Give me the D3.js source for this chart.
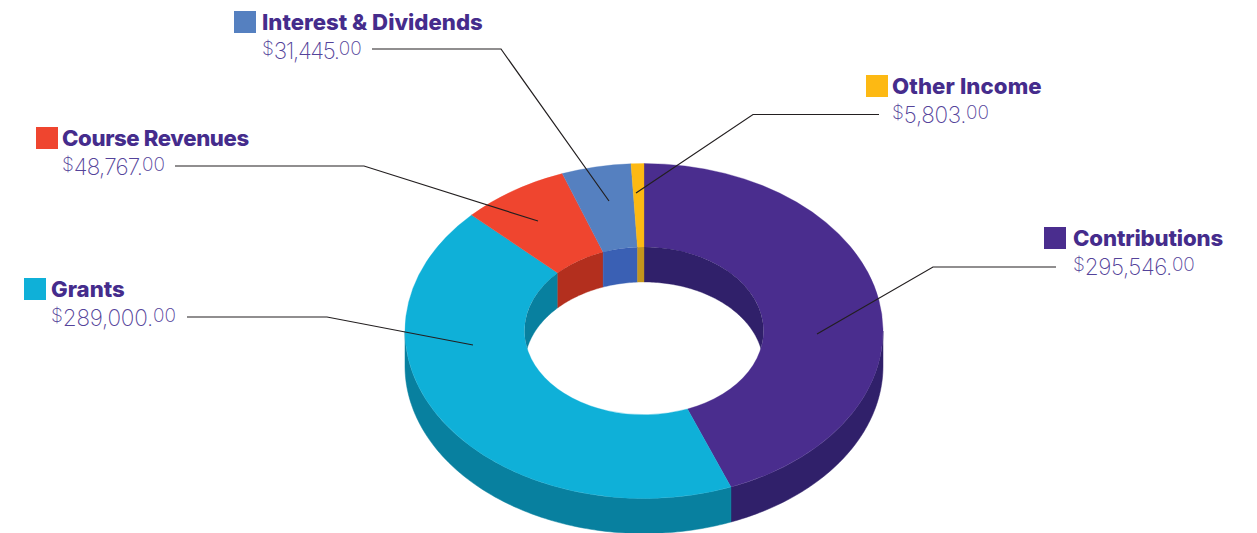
<!DOCTYPE html>
<html>
<head>
<meta charset="utf-8">
<script src="https://cdnjs.cloudflare.com/ajax/libs/d3/7.8.5/d3.min.js"></script>
<style>
  html, body { margin: 0; background: #fff; }
  svg { display: block; }
  .name { font-family: Inter, sans-serif; font-weight: 800; fill: #452c8c; font-size: 22.2px; }
  .amount { font-family: Inter, sans-serif; font-weight: 250; fill: #54439a; font-size: 22.5px; }
  .small { font-size: 19px; letter-spacing: 0; }
</style>
</head>
<body>
<script>
// data
var categories = ["Contributions", "Grants", "Course Revenues", "Interest & Dividends", "Other Income"];
var values = [295546, 289000, 48767, 31445, 5803];
var topColors = ["#4a2d8e", "#0fb0d8", "#ef452f", "#5580c0", "#fdb913"];
var wallColors = ["#30206a", "#08809f", "#b32f1e", "#3a60b4", "#c4961c"];

// label box (square corner), text offset and leader line for every category, same order
var labelPos = [[1044, 227], [24, 278], [36, 127], [234, 11], [866, 75]];
var textOffset = [29, 27, 26, 28, 26];
var nameSpacing = [-0.15, 0, -0.4, 0, 0.1];
var amountSpacing = [-0.45, -0.25, -0.8, -1.35, -0.35];
var leaders = [
  [[1056, 267], [933, 267], [817, 334]],
  [[187, 317], [327, 317], [473, 345]],
  [[175, 166], [364, 166], [538, 221]],
  [[372, 49], [501, 49], [609, 201]],
  [[879, 114.5], [753, 114.5], [636, 193]]
];

var width = 1257, height = 533;
var cx = 644, cy = 331, rx = 239, ry = 167.5, innerRx = 119.5, innerRy = 84, depth = 35;

var svg = d3.select("body").append("svg")
  .attr("width", width)
  .attr("height", height);

var pie = d3.pie().sort(null).value(function (d) { return d; });
var slices = pie(values);

// projects pie angle (0 = top, clockwise) onto an ellipse
function project(a, radX, radY, drop) {
  return [cx + radX * Math.sin(a), cy - radY * Math.cos(a) + drop];
}

// band between an elliptical arc and the same arc pushed down by depth
function wallPath(a0, a1, radX, radY) {
  var n = Math.max(2, Math.ceil((a1 - a0) * 60));
  var angles = d3.range(n + 1).map(function (i) { return a0 + (a1 - a0) * i / n; });
  var upper = angles.map(function (a) { return project(a, radX, radY, 0); });
  var lower = angles.slice().reverse().map(function (a) { return project(a, radX, radY, depth); });
  return d3.line()(upper.concat(lower)) + "Z";
}

var PI = Math.PI;

// outer wall, only the front half shows
var outer = svg.append("g").attr("class", "outer-wall");
slices.forEach(function (s, i) {
  var a0 = Math.max(s.startAngle, PI / 2), a1 = Math.min(s.endAngle, 3 * PI / 2);
  if (a1 <= a0) return;
  outer.append("path")
    .attr("d", wallPath(a0, a1, rx, ry))
    .attr("fill", wallColors[i])
    .attr("stroke", wallColors[i])
    .attr("stroke-width", 0.5);
});

// top face is a flat donut squashed to an ellipse
var arc = d3.arc().innerRadius(innerRx).outerRadius(rx);
svg.append("g")
  .attr("transform", "translate(" + cx + "," + cy + ") scale(1," + (ry / rx) + ")")
  .selectAll("path")
  .data(slices)
  .enter()
  .append("path")
  .attr("d", arc)
  .attr("fill", function (d, i) { return topColors[i]; })
  .attr("stroke", function (d, i) { return topColors[i]; })
  .attr("stroke-width", 0.4);

// inner wall seen through the hole, back half only
svg.append("clipPath").attr("id", "hole")
  .append("ellipse")
  .attr("cx", cx).attr("cy", cy).attr("rx", innerRx).attr("ry", innerRy);

var inner = svg.append("g").attr("clip-path", "url(#hole)");
slices.forEach(function (s, i) {
  var ranges = [[s.startAngle, Math.min(s.endAngle, PI / 2)], [Math.max(s.startAngle, 3 * PI / 2), s.endAngle]];
  ranges.forEach(function (r) {
    if (r[1] <= r[0]) return;
    inner.append("path")
      .attr("d", wallPath(r[0], r[1], innerRx, innerRy))
      .attr("fill", wallColors[i])
      .attr("stroke", wallColors[i])
      .attr("stroke-width", 0.4);
  });
});

// leader lines
svg.append("g").selectAll("path")
  .data(leaders)
  .enter()
  .append("path")
  .attr("d", d3.line())
  .attr("fill", "none")
  .attr("stroke", "#231f20")
  .attr("stroke-width", 1.2);

// labels
var labels = svg.append("g").selectAll("g")
  .data(categories)
  .enter()
  .append("g")
  .attr("transform", function (d, i) { return "translate(" + labelPos[i][0] + "," + labelPos[i][1] + ")"; });

labels.append("rect")
  .attr("width", 22)
  .attr("height", 22)
  .attr("fill", function (d, i) { return topColors[i]; });

labels.append("text")
  .attr("class", "name")
  .attr("x", function (d, i) { return textOffset[i]; })
  .attr("y", 19)
  .style("letter-spacing", function (d, i) { return nameSpacing[i] + "px"; })
  .text(function (d) { return d; });

var amount = labels.append("text")
  .attr("class", "amount")
  .attr("x", function (d, i) { return textOffset[i]; })
  .attr("y", 48);

amount.append("tspan").attr("class", "small").attr("dy", -4).text("$");
amount.append("tspan")
  .attr("dy", 4)
  .style("letter-spacing", function (d, i) { return amountSpacing[i] + "px"; })
  .text(function (d, i) { return d3.format(",")(values[i]) + "."; });
amount.append("tspan").attr("class", "small").attr("dy", -4).text("00");
</script>
</body>
</html>
